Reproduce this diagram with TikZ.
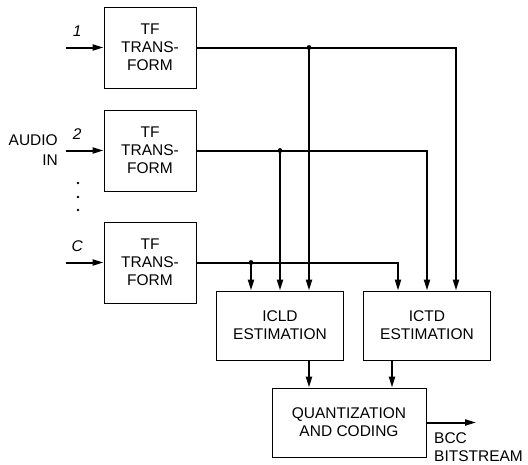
\documentclass[tikz,border=0pt]{standalone}
\usepackage{fontspec}
\setsansfont{Liberation Sans}
\usetikzlibrary{
  arrows.meta,
  positioning,
  calc
}

\begin{document}
\begin{tikzpicture}[
  x=1pt, y=-1pt,
  font=\sffamily\fontsize{15.5}{18}\selectfont,
  >={Triangle[length=11pt,width=6pt]},
  block/.style={
    draw,
    line width=0.9pt,
    align=center,
    inner sep=0pt
  },
  tfblock/.style={block,minimum width=92pt,minimum height=81pt},
  estblock/.style={block,minimum width=127pt,minimum height=69pt},
  codeblock/.style={block,minimum width=154pt,minimum height=69pt},
  wire/.style={line width=2pt},
  chan/.style={
    font=\sffamily\itshape\fontsize{15.5}{18}\selectfont,
    inner sep=0pt,
    above=10pt,
    pos=0.3
  },
  plain/.style={inner sep=0pt}
]
\useasboundingbox (0,0) rectangle (528,464);

% transform blocks
\node[tfblock] (tf1) at (150,47.5) {TF\\TRANS-\\FORM};
\node[tfblock] (tf2) at (150,150.5) {TF\\TRANS-\\FORM};
\node[tfblock] (tf3) at (150,262.5) {TF\\TRANS-\\FORM};

% estimation and coding
\node[estblock] (icld) at (280,325.5) {ICLD\\ESTIMATION};
\node[estblock] (ictd) at (427,325.5) {ICTD\\ESTIMATION};
\node[codeblock] (quant) at (349,422.5) {QUANTIZATION\\AND CODING};

% labels
\node[plain,anchor=north east,align=right,
  font=\sffamily\fontsize{15.5}{20}\selectfont] (audio) at (58,134) {AUDIO\\IN};
\node[plain,anchor=north west,align=left] (bitstream) at (434,432) {BCC\\BITSTREAM};
\foreach \y in {183,197,210}
  \fill (78,\y) circle (1.3pt);

% inputs
\coordinate (in1) at (66,47.5);
\coordinate (in2) at (66,150.5);
\coordinate (in3) at (66,262.5);
\draw[wire,->] (in1) -- node[chan] {1} (tf1.west);
\draw[wire,->] (in2) -- node[chan] {2} (tf2.west);
\draw[wire,->] (in3) -- node[chan] {C} (tf3.west);

% arrow ends on the estimators
\coordinate (l1) at ([xshift=-29pt]icld.north);
\coordinate (l2) at (icld.north);
\coordinate (l3) at ([xshift=29pt]icld.north);
\coordinate (t1) at ([xshift=-29pt]ictd.north);
\coordinate (t2) at (ictd.north);
\coordinate (t3) at ([xshift=29pt]ictd.north);

\coordinate (j1) at (l3 |- tf1.east);
\coordinate (j2) at (l2 |- tf2.east);
\coordinate (j3) at (l1 |- tf3.east);

\draw[wire,->] (tf1.east) -| (t3);
\draw[wire,->] (tf2.east) -| (t2);
\draw[wire,->] (tf3.east) -| (t1);
\draw[wire,->] (j1) -- (l3);
\draw[wire,->] (j2) -- (l2);
\draw[wire,->] (j3) -- (l1);
\foreach \j in {j1,j2,j3}
  \fill (\j) circle (2.4pt);

% to coding and out
\coordinate (d1) at ([xshift=29pt]icld.south);
\coordinate (d2) at ([xshift=-35pt]ictd.south);
\draw[wire,->] (d1) -- (d1 |- quant.north);
\draw[wire,->] (d2) -- (d2 |- quant.north);

\coordinate (bcc) at (476,422.5);
\draw[wire,->] (quant.east) -- (bcc);
\end{tikzpicture}
\end{document}
